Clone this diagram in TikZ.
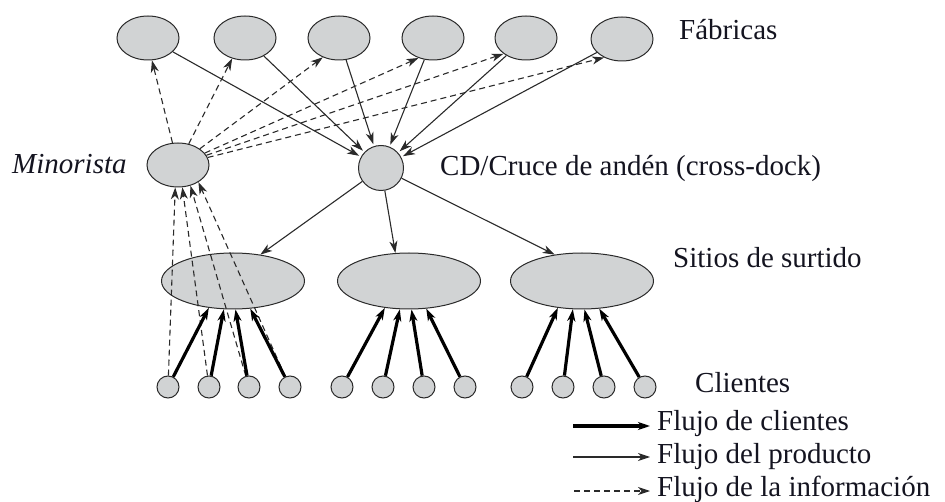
\documentclass[tikz,border=0pt]{standalone}
\usepackage{fontspec}
\setmainfont{Liberation Serif}
\usetikzlibrary{shapes.geometric,arrows.meta}
\definecolor{nodefill}{HTML}{D1D3D4}
\definecolor{edgecol}{HTML}{2A2A2A}
\definecolor{txt}{HTML}{141420}
\tikzset{
  site/.style={ellipse,draw=edgecol,line width=1pt,fill=nodefill,inner sep=0pt},
  plant/.style={site,minimum width=62pt,minimum height=44pt},
  hub/.style={circle,draw=edgecol,line width=1pt,fill=nodefill,inner sep=0pt,minimum size=45pt},
  zone/.style={site,minimum width=143pt,minimum height=56pt},
  client/.style={circle,draw=edgecol,line width=1pt,fill=nodefill,inner sep=0pt,minimum size=22pt},
  tip/.style={-{Stealth[length=12pt,width=8pt,inset=3.5pt]}},
  custflow/.style={tip,line width=3.2pt,draw=black},
  prodflow/.style={tip,line width=1.1pt,draw=edgecol},
  infoflow/.style={tip,line width=1.1pt,draw=edgecol,dash pattern=on 6pt off 4pt},
  lbl/.style={anchor=base west,inner sep=0pt,text=txt,font=\fontsize{29}{34}\selectfont}
}
\begin{document}
\begin{tikzpicture}[x=1pt,y=-1pt]
\useasboundingbox (0,0) rectangle (945,502);

% factories
\node[plant] (f1) at (148,38) {};
\node[plant] (f2) at (245,38) {};
\node[plant] (f3) at (339,38) {};
\node[plant] (f4) at (433,38) {};
\node[plant] (f5) at (526,38) {};
\node[plant] (f6) at (622,39) {};

% retailer and cross-dock
\node[plant] (min) at (178,165) {};
\node[hub] (cd) at (381,168) {};

% picking sites
\node[zone] (s1) at (233,281) {};
\node[zone] (s2) at (409,281) {};
\node[zone] (s3) at (582,281) {};

% customers
\foreach \i/\x in {1/168,2/209,3/249,4/290,5/342,6/383,7/424,8/465,9/522,10/563,11/604,12/645}
  \node[client] (c\i) at (\x,387) {};

% labels
\node[lbl] (tf) at (679,40) {Fábricas};
\node[lbl,font=\fontsize{29}{34}\selectfont\itshape] (tm) at (12,174) {Minorista};
\node[lbl] (tc) at (440,176) {CD/Cruce de andén (cross-dock)};
\node[lbl] (ts) at (673,268) {Sitios de surtido};
\node[lbl] (tk) at (695,392) {Clientes};

% product flow: factories to cross-dock, cross-dock to sites
\foreach \i in {1,...,6}
  \draw[prodflow,shorten >=2pt] (f\i) -- (cd);
\draw[prodflow] (cd) -- (s1.44);
\draw[prodflow] (cd) -- (s2.116);
\draw[prodflow] (cd) -- (s3.136);

% information flow: retailer to factories
\draw[infoflow] (min) -- (f1.280);
\draw[infoflow] (min) -- (f2.238);
\draw[infoflow] (min) -- (f3.230);
\draw[infoflow] (min) -- (f4.234);
\draw[infoflow] (min) -- (f5.215);
\draw[infoflow] (min) -- (f6.226);

% information flow: customers to retailer
\draw[infoflow] (c1) -- (min.263);
\draw[infoflow] (c2) -- (min.281);
\draw[infoflow] (c3) -- (min.301);
\draw[infoflow] (c4) -- (min.320);

% customer flow: customers to sites
\foreach \s/\a/\b/\c/\d in {s1/1/2/3/4,s2/5/6/7/8,s3/9/10/11/12}{
  \draw[custflow] (c\a) -- (\s.228);
  \draw[custflow] (c\b) -- (\s.252);
  \draw[custflow] (c\c) -- (\s.275);
  \draw[custflow] (c\d) -- (\s.302);
}

% legend
\coordinate (k1a) at (573,426); \coordinate (k1b) at (650,426);
\coordinate (k2a) at (573,457); \coordinate (k2b) at (650,457);
\coordinate (k3a) at (574,491); \coordinate (k3b) at (650,491);
\draw[custflow] (k1a) -- (k1b);
\draw[prodflow] (k2a) -- (k2b);
\draw[infoflow] (k3a) -- (k3b);
\node[lbl] (l1) at (657,431) {Flujo de clientes};
\node[lbl] (l2) at (657,463) {Flujo del producto};
\node[lbl] (l3) at (657,496) {Flujo de la información};
\end{tikzpicture}
\end{document}
